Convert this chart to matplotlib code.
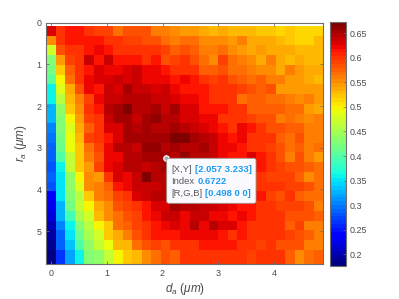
import numpy as np
import matplotlib
matplotlib.use("Agg")
import matplotlib.pyplot as plt
from matplotlib.patches import FancyBboxPatch

plt.rcParams["font.family"] = ["Liberation Sans", "DejaVu Sans"]
plt.rcParams["mathtext.fontset"] = "custom"
plt.rcParams["mathtext.it"] = "Liberation Sans:italic"
plt.rcParams["mathtext.rm"] = "Liberation Sans"

# values, in thousandths, one list per r_a row
row_00 = [633,596,611,611,596,592,588,565,580,580,580,558,558,550,543,543,535,527,535,527,527,527,520,520,512,520,512,512,512]
row_01 = [550,596,611,618,611,618,596,596,588,588,580,580,565,558,565,565,550,550,550,543,558,535,535,535,527,520,512,512,527]
row_02 = [472,580,596,603,611,625,611,603,603,596,603,596,588,573,580,573,558,558,565,550,543,535,543,535,535,535,527,527,527]
row_03 = [428,543,588,596,637,618,640,618,618,618,603,611,580,588,596,580,565,550,588,565,558,550,535,558,535,527,535,527,527]
row_04 = [420,520,573,596,618,633,625,625,633,637,621,621,611,603,603,596,573,573,580,565,565,558,550,550,535,558,543,535,535]
row_05 = [404,497,565,596,621,633,633,637,633,640,625,625,625,614,621,614,596,588,603,580,573,565,573,558,558,543,543,535,527]
row_06 = [362,480,535,580,621,611,640,633,656,640,640,633,640,625,611,611,611,596,596,596,588,580,573,580,543,543,543,543,543]
row_07 = [362,458,527,558,588,621,640,640,644,644,644,640,640,629,625,625,611,603,603,603,565,573,573,565,565,558,550,558,543]
row_08 = [331,436,520,550,596,611,648,656,672,648,648,656,640,652,633,633,618,611,611,603,603,573,573,573,573,565,565,543,535]
row_09 = [324,428,497,543,588,603,640,656,656,640,656,660,648,648,633,633,625,625,596,603,603,588,580,580,558,565,558,550,558]
row_10 = [308,428,483,535,573,603,633,633,656,648,652,648,648,652,648,640,633,625,618,603,625,611,603,580,580,573,573,558,558]
row_11 = [300,420,490,527,588,596,618,633,656,656,656,656,656,668,668,656,648,640,625,611,621,603,596,596,573,565,580,558,558]
row_12 = [292,412,488,520,565,588,625,648,648,640,664,660,648,656,648,648,652,640,625,621,611,603,596,588,580,565,573,558,565]
row_13 = [285,394,464,520,558,580,625,621,648,648,656,656,656,648,660,648,644,640,625,618,611,629,611,596,580,558,580,558,543]
row_14 = [277,362,464,520,543,588,621,633,648,648,640,648,652,656,648,648,644,640,633,625,618,614,611,603,588,580,580,573,565]
row_15 = [285,354,436,497,550,543,596,633,625,637,668,648,648,652,644,648,644,640,633,625,618,614,603,588,588,588,573,550,565]
row_16 = [277,347,436,480,550,558,573,611,625,640,640,640,644,648,648,644,644,640,633,625,621,618,603,596,596,588,588,580,565]
row_17 = [238,347,428,458,520,558,565,588,603,633,640,648,648,648,644,644,640,633,629,625,621,618,611,588,580,603,573,565,565]
row_18 = [230,331,420,464,497,535,550,580,588,603,611,633,633,652,648,644,640,637,633,625,611,611,603,596,588,588,588,580,558]
row_19 = [218,331,389,448,475,527,550,565,580,588,611,625,640,637,621,640,640,625,625,611,621,618,603,603,596,580,580,580,573]
row_20 = [207,308,362,428,458,497,520,565,573,588,603,618,621,629,625,648,625,644,629,633,618,603,603,603,596,573,588,558,558]
row_21 = [199,292,354,412,451,475,520,535,558,580,596,611,611,618,621,621,625,621,614,603,611,603,603,596,596,588,580,573,558]
row_22 = [191,285,335,394,436,464,490,527,527,565,580,588,580,603,603,596,611,611,611,611,603,603,588,596,580,580,580,558,558]
row_23 = [176,269,316,362,428,436,468,497,520,527,550,565,580,573,596,596,603,596,596,603,603,588,596,596,596,573,550,565,573]

x_ticks = [0, 1, 2, 3, 4]
y_ticks = [0, 1, 2, 3, 4, 5]
cbar_ticks = [0.2, 0.25, 0.3, 0.35, 0.4, 0.45, 0.5, 0.55, 0.6, 0.65]
cbar_labels = ["0.2", "0.25", "0.3", "0.35", "0.4", "0.45", "0.5", "0.55", "0.6", "0.65"]
tip_x = 2.057
tip_y = 3.233
tip_lines = [("[X,Y]", "[2.057 3.233]"), ("Index", "0.6722"), ("[R,G,B]", "[0.498 0 0]")]

GRAY = "#6e6e6e"
TEXT = "#4a4a4a"
W, H = 399, 299

index = np.array([row_00, row_01, row_02, row_03, row_04, row_05, row_06, row_07,
                  row_08, row_09, row_10, row_11, row_12, row_13, row_14, row_15,
                  row_16, row_17, row_18, row_19, row_20, row_21, row_22, row_23]) / 1000

x_edges = -0.0857 + 0.1714 * np.arange(index.shape[1] + 1)
y_edges = 0.0786 + 0.2333 * np.arange(index.shape[0] + 1)
y_edges[-1] = 5.787

fig = plt.figure(figsize=(W / 100, H / 100), dpi=100)
ax = fig.add_axes([46.2 / W, (H - 264) / H, 277.2 / W, 241.3 / H])
mesh = ax.pcolormesh(x_edges, y_edges, index, cmap=plt.get_cmap("jet", 64), vmin=0.176, vmax=0.673)
ax.set_xlim(-0.0857, 4.885)
ax.set_ylim(5.787, 0)
ax.set_xticks(x_ticks)
ax.set_yticks(y_ticks)
ax.tick_params(direction="in", length=2.5, width=0.6, color=GRAY, labelcolor=TEXT,
               labelsize=6.4, top=True, right=True, pad=3.5)
for s in ax.spines.values():
    s.set_color(GRAY)
    s.set_linewidth(0.8)
ax.set_xlabel(r"$d_a$ ($\mu m$)", fontsize=8.5, color=TEXT, labelpad=2.5)
ax.set_ylabel(r"$r_a$ ($\mu m$)", fontsize=8.5, color=TEXT, labelpad=5)

cax = fig.add_axes([330 / W, (H - 266) / H, 16 / W, 244 / H])
cb = fig.colorbar(mesh, cax=cax)
cb.set_ticks(cbar_ticks)
cb.set_ticklabels(cbar_labels)
cb.ax.tick_params(direction="in", length=2.5, width=0.5, color=GRAY, labelcolor=TEXT,
                  labelsize=6.4, pad=2.5)
cb.outline.set_edgecolor(GRAY)
cb.outline.set_linewidth(0.8)

# data tip, placed in figure pixels
ax.plot([tip_x], [tip_y], "o", ms=4, mfc="#b0b0b0", mec="white", mew=0.8, zorder=6)
box = FancyBboxPatch((166.7 / W, (H - 203.3) / H), 89.3 / W, 45 / H, transform=fig.transFigure,
                     boxstyle="round,pad=0,rounding_size=0.006", fc="#fbfbff", ec="#9a9a9a", lw=0.6, zorder=5)
fig.add_artist(box)
value_x = [194.7, 197.3, 205.3]
for i, (name, val) in enumerate(tip_lines):
    y = (H - (169.3 + 12 * i)) / H
    fig.text(171 / W, y, name, fontsize=6.8, color="#5a5a5a", va="center", zorder=7)
    fig.text(value_x[i] / W, y, val, fontsize=6.8, color="#1e9bf0", weight="bold", va="center", zorder=7)

fig.savefig("out.png", dpi=100)
